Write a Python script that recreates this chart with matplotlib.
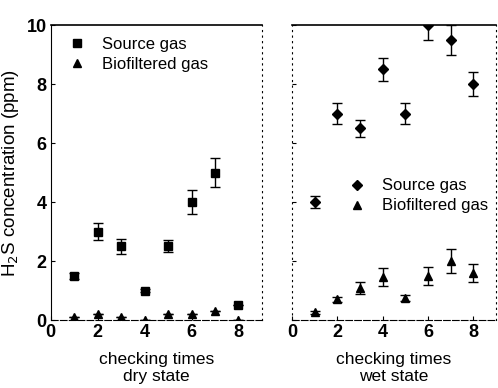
import matplotlib.pyplot as plt
from matplotlib.lines import Line2D
import numpy as np

plt.rcParams['font.family'] = ['Liberation Sans', 'DejaVu Sans']

times = np.arange(1, 9)

dry_source = [1.5, 3.0, 2.5, 1.0, 2.5, 4.0, 5.0, 0.5]
dry_source_err = [0.1, 0.3, 0.25, 0.05, 0.2, 0.4, 0.5, 0.0]
dry_bio = [0.1, 0.2, 0.1, 0.0, 0.2, 0.2, 0.3, 0.0]
dry_bio_err = [0.0, 0.0, 0.0, 0.0, 0.0, 0.0, 0.0, 0.0]

wet_source = [4.0, 7.0, 6.5, 8.5, 7.0, 10.0, 9.5, 8.0]
wet_source_err = [0.2, 0.35, 0.3, 0.4, 0.35, 0.5, 0.5, 0.4]
wet_bio = [0.27, 0.7, 1.1, 1.45, 0.75, 1.5, 2.0, 1.6]
wet_bio_err = [0.05, 0.1, 0.2, 0.3, 0.1, 0.3, 0.4, 0.3]

fig = plt.figure(figsize=(4.98, 3.88), dpi=100)
ax1 = fig.add_axes([0.102, 0.175, 0.424, 0.760])
ax2 = fig.add_axes([0.586, 0.175, 0.410, 0.760])

eb = dict(color='black', ecolor='black', elinewidth=1, capsize=3.5, capthick=1, linestyle='none')

ax1.errorbar(times, dry_source, yerr=dry_source_err, marker='s', markersize=6, **eb)
ax1.errorbar(times, dry_bio, yerr=dry_bio_err, marker='^', markersize=6, **eb)

ax2.errorbar(times, wet_source, yerr=wet_source_err, marker='D', markersize=5.5, **eb)
ax2.errorbar(times, wet_bio, yerr=wet_bio_err, marker='^', markersize=6, **eb)

for ax in (ax1, ax2):
    ax.set_xlim(0, 9)
    ax.set_ylim(0, 10)
    ax.set_xticks([0, 2, 4, 6, 8])
    ax.set_yticks([0, 2, 4, 6, 8, 10])
    ax.tick_params(direction='in', length=3, labelsize=13, pad=3)
    for lab in ax.get_xticklabels() + ax.get_yticklabels():
        lab.set_fontweight('bold')
    ax.spines['top'].set_linewidth(1.2)
    ax.spines['bottom'].set_linestyle((0, (6, 2)))
    ax.spines['right'].set_linestyle((0, (1, 4)))

ax1.spines['left'].set_linestyle((0, (4, 1)))
ax2.spines['left'].set_linestyle((0, (1, 4)))
ax2.tick_params(labelleft=False)

ax1.set_xlabel('checking times\ndry state', fontsize=12.5, linespacing=1.15, labelpad=8)
ax2.set_xlabel('checking times\nwet state', fontsize=12.5, linespacing=1.15, labelpad=8)
ax1.set_ylabel('H$_2$S concentration (ppm)', fontsize=13.5, labelpad=4)

def handle(marker, size):
    return Line2D([], [], color='black', marker=marker, markersize=size, linestyle='none')

legend_kw = dict(frameon=False, fontsize=12, handletextpad=1.0, borderaxespad=0.3,
                 labelspacing=0.3, handlelength=1.0)
ax1.legend([handle('s', 6), handle('^', 6)], ['Source gas', 'Biofiltered gas'],
           loc='upper left', bbox_to_anchor=(0.03, 1.0), **legend_kw)
ax2.legend([handle('D', 5.5), handle('^', 6)], ['Source gas', 'Biofiltered gas'],
           loc='upper left', bbox_to_anchor=(0.22, 0.52), **legend_kw)

fig.savefig('out.png', dpi=100)
